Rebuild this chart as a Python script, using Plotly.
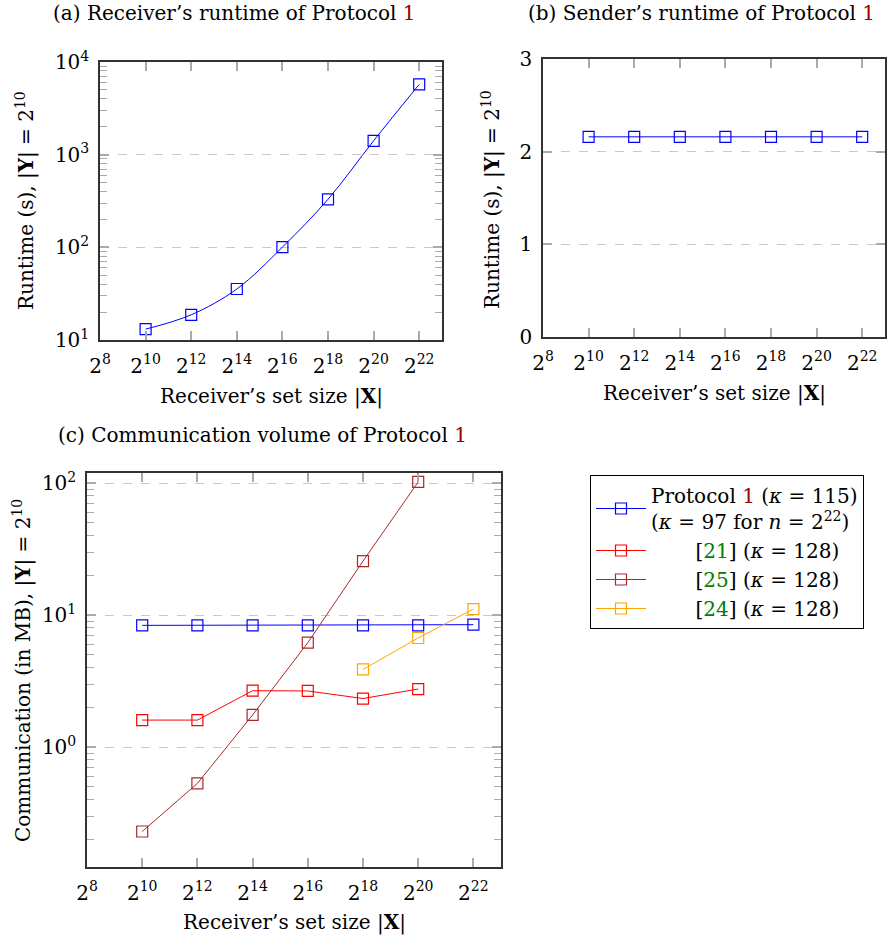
import math
import plotly.graph_objects as go

# ---------------- data ----------------
set_size_exponents = [10, 12, 14, 16, 18, 20, 22]
receiver_runtime_s = [13.1, 18.7, 35.5, 100.5, 330, 1410, 5730]
sender_runtime_s = [2.16, 2.16, 2.16, 2.16, 2.16, 2.16, 2.16]

comm_protocol1_mb = [8.35, 8.35, 8.35, 8.35, 8.35, 8.35, 8.45]
ref21_exponents = [10, 12, 14, 16, 18, 20]
comm_ref21_mb = [1.60, 1.60, 2.67, 2.66, 2.33, 2.75]
ref25_exponents = [10, 12, 14, 16, 18, 20]
comm_ref25_mb = [0.229, 0.53, 1.75, 6.17, 25.6, 102]
ref24_exponents = [18, 20, 22]
comm_ref24_mb = [3.87, 6.70, 11.1]

x_tick_exponents = [8, 10, 12, 14, 16, 18, 20, 22]
x_tick_labels = [f"2<sup>{e}</sup>" for e in x_tick_exponents]

# ---------------- style ----------------
W, H = 889, 941
FONT = "DejaVu Serif"
FS = 20
BLUE, RED, BROWN, ORANGE = "#0000ff", "#ff0000", "#a52a2a", "#ffa500"
LINKRED, LINKGREEN = "#990000", "#008000"


def px_dom(a, b):
    return [a / W, b / W]


def py_dom(top, bottom):
    return [1 - bottom / H, 1 - top / H]


def sizes(exps):
    return [2 ** e for e in exps]


fig = go.Figure()


def add(xa, ya, exps, vals, color, name, showlegend=False, shape="linear"):
    fig.add_trace(go.Scatter(
        x=sizes(exps), y=vals, xaxis=xa, yaxis=ya, mode="lines+markers",
        line=dict(color=color, width=1, shape=shape),
        marker=dict(symbol="square-open", size=11, color=color, line=dict(width=1.2, color=color)),
        name=name, showlegend=showlegend))


add("x", "y", set_size_exponents, receiver_runtime_s, BLUE, "a", shape="spline")
add("x2", "y2", set_size_exponents, sender_runtime_s, BLUE, "b")

nb = "\u00a0"
add("x3", "y3", set_size_exponents, comm_protocol1_mb, BLUE,
    f"Protocol <span style='color:{LINKRED}'>1</span> (<i>κ</i> = 115)<br>(<i>κ</i> = 97 for <i>n</i> = 2<sup>22</sup>)", True)
add("x3", "y3", ref21_exponents, comm_ref21_mb, RED,
    nb * 7 + f"[<span style='color:{LINKGREEN}'>21</span>] (<i>κ</i> = 128)", True)
add("x3", "y3", ref25_exponents, comm_ref25_mb, BROWN,
    nb * 7 + f"[<span style='color:{LINKGREEN}'>25</span>] (<i>κ</i> = 128)", True)
add("x3", "y3", ref24_exponents, comm_ref24_mb, ORANGE,
    nb * 7 + f"[<span style='color:{LINKGREEN}'>24</span>] (<i>κ</i> = 128)", True)

xrange_log = [8 * math.log10(2), 23 * math.log10(2)]
common_x = dict(type="log", range=xrange_log, tickvals=sizes(x_tick_exponents), ticktext=x_tick_labels,
                ticks="inside", ticklen=9, tickcolor="#aaaaaa", tickwidth=1.5, mirror="allticks",
                showline=True, linecolor="#333333", linewidth=1.5, showgrid=False, zeroline=False,
                automargin=False, ticklabelstandoff=7, tickfont=dict(family=FONT, size=FS, color="black"))
common_y = dict(ticks="inside", ticklen=9, tickcolor="#aaaaaa", tickwidth=1.5, mirror="allticks",
                showline=True, linecolor="#333333", linewidth=1.5, showgrid=True, gridcolor="#c8c8c8",
                griddash="dash", gridwidth=1, zeroline=False, automargin=False, ticklabelstandoff=5,
                tickfont=dict(family=FONT, size=FS, color="black"))
minor_log = dict(ticks="inside", ticklen=7, tickcolor="#aaaaaa", tickwidth=1.2, dtick="D1", showgrid=False)

fig.update_layout(
    template="none",
    width=W, height=H, margin=dict(l=0, r=0, t=0, b=0, autoexpand=False),
    paper_bgcolor="white", plot_bgcolor="white",
    font=dict(family=FONT, size=FS, color="black"),
    xaxis=dict(common_x, domain=px_dom(100, 442), anchor="y"),
    yaxis=dict(common_y, domain=py_dom(62, 340), anchor="x", type="log", range=[1, 4],
               tickvals=[10, 100, 1000, 10000],
               ticktext=["10<sup>1</sup>", "10<sup>2</sup>", "10<sup>3</sup>", "10<sup>4</sup>"], minor=minor_log),
    xaxis2=dict(common_x, domain=px_dom(543, 885), anchor="y2"),
    yaxis2=dict(common_y, domain=py_dom(59, 337), anchor="x2", range=[0, 3], tickvals=[0, 1, 2, 3]),
    xaxis3=dict(common_x, domain=px_dom(87, 501), anchor="y3"),
    yaxis3=dict(common_y, domain=py_dom(473, 867), anchor="x3", type="log", range=[-0.909, 2.076],
                tickvals=[1, 10, 100],
                ticktext=["10<sup>0</sup>", "10<sup>1</sup>", "10<sup>2</sup>"], minor=minor_log),
    legend=dict(x=590 / W, y=1 - 475 / H, xanchor="left", yanchor="top", bgcolor="white",
                bordercolor="black", borderwidth=1, font=dict(family=FONT, size=FS),
                tracegroupgap=2, itemwidth=50),
    showlegend=True,
)

ann = [
    (234, 13, f"(a) Receiver’s runtime of Protocol <span style='color:{LINKRED}'>1</span>", 0),
    (701, 13, f"(b) Sender’s runtime of Protocol <span style='color:{LINKRED}'>1</span>", 0),
    (262, 435, f"(c) Communication volume of Protocol <span style='color:{LINKRED}'>1</span>", 0),
    (271, 396, "Receiver’s set size |<b>X</b>|", 0),
    (714, 393, "Receiver’s set size |<b>X</b>|", 0),
    (294, 922, "Receiver’s set size |<b>X</b>|", 0),
    (26, 201, "Runtime (s), |<b>Y</b>| = 2<sup>10</sup>", -90),
    (492, 199, "Runtime (s), |<b>Y</b>| = 2<sup>10</sup>", -90),
    (22, 671, "Communication (in MB), |<b>Y</b>| = 2<sup>10</sup>", -90),
]
for x, y, t, a in ann:
    fig.add_annotation(x=x / W, y=1 - y / H, xref="paper", yref="paper", text=t,
                       showarrow=False, textangle=a, xanchor="center", yanchor="middle",
                       font=dict(family=FONT, size=FS, color="black"))

fig.write_html("out.html", config={"displayModeBar": False},
               post_script="document.body.style.margin='0';document.body.style.overflow='hidden';")
